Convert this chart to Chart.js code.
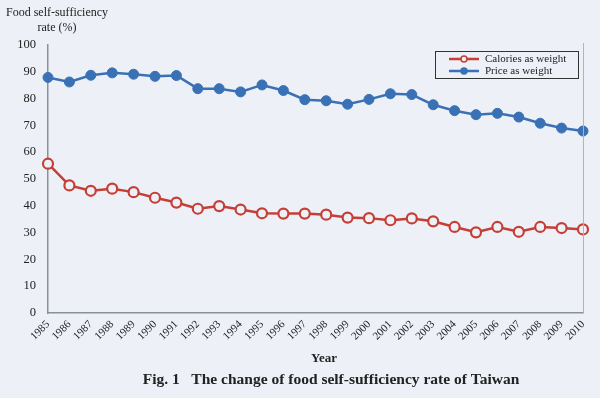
<!DOCTYPE html>
<html>
<head>
<meta charset="utf-8">
<script src="https://cdn.jsdelivr.net/npm/chart.js@4.4.0/dist/chart.umd.min.js"></script>
<style>
  html, body { margin: 0; padding: 0; background: #edf0f6; }
  #wrap { width: 600px; height: 398px; position: relative; }
</style>
</head>
<body>
<div id="wrap"><canvas id="grafica"></canvas></div>
<script>
// Datos
var years = ["1985", "1986", "1987", "1988", "1989", "1990", "1991", "1992", "1993", "1994",
  "1995", "1996", "1997", "1998", "1999", "2000", "2001", "2002", "2003", "2004",
  "2005", "2006", "2007", "2008", "2009", "2010"];
var caloriesWeight = [55.7, 47.6, 45.6, 46.4, 45.1, 43.0, 41.2, 38.9, 39.9, 38.6,
  37.2, 37.1, 37.1, 36.7, 35.6, 35.4, 34.6, 35.3, 34.2, 32.1,
  30.1, 32.1, 30.3, 32.1, 31.7, 31.2];
var priceWeight = [87.9, 86.2, 88.7, 89.6, 89.1, 88.3, 88.6, 83.7, 83.7, 82.5,
  85.1, 83.0, 79.6, 79.2, 77.9, 79.7, 81.8, 81.5, 77.7, 75.5,
  74.0, 74.5, 73.1, 70.8, 69.0, 67.9];
var yTicks = [0, 10, 20, 30, 40, 50, 60, 70, 80, 90, 100];
var seriesNames = ["Calories as weight", "Price as weight"];

var rojo = "#c53f37";
var azul = "#3a71b5";
var fondo = "#edf0f6";
var texto = "#222222";
var serif = "'Liberation Serif', 'DejaVu Serif', serif";

// Plugin para textos extra y leyenda dentro del area
var extras = {
  id: "extras",
  afterDraw: function (chart) {
    var ctx = chart.ctx;
    var area = chart.chartArea;
    ctx.save();
    // borde derecho del area
    ctx.strokeStyle = "#aab4cc";
    ctx.lineWidth = 1;
    ctx.beginPath();
    ctx.moveTo(area.right + 0.5, area.top - 2);
    ctx.lineTo(area.right + 0.5, area.bottom);
    ctx.stroke();

    // titulo del eje y
    ctx.fillStyle = texto;
    ctx.font = "12px " + serif;
    ctx.textAlign = "center";
    ctx.textBaseline = "middle";
    ctx.fillText("Food self-sufficiency", 57, 13);
    ctx.fillText("rate (%)", 57, 28);

    // titulo eje x y pie de figura
    ctx.font = "bold 13px " + serif;
    ctx.fillText("Year", 324, 359);
    ctx.font = "bold 15.5px " + serif;
    ctx.fillText("Fig. 1   The change of food self-sufficiency rate of Taiwan", 331, 380);

    // leyenda
    var lx = 435, ly = 51, lw = 143, lh = 27;
    ctx.strokeStyle = "#333333";
    ctx.lineWidth = 1;
    ctx.strokeRect(lx + 0.5, ly + 0.5, lw, lh);
    var colores = [rojo, azul];
    for (var i = 0; i < seriesNames.length; i++) {
      var yy = ly + 8 + i * 12;
      ctx.strokeStyle = colores[i];
      ctx.lineWidth = 2.5;
      ctx.beginPath();
      ctx.moveTo(lx + 14, yy);
      ctx.lineTo(lx + 44, yy);
      ctx.stroke();
      ctx.beginPath();
      ctx.arc(lx + 29, yy, 3, 0, Math.PI * 2);
      ctx.fillStyle = i === 0 ? fondo : azul;
      ctx.fill();
      ctx.lineWidth = 1.5;
      ctx.stroke();
      ctx.fillStyle = texto;
      ctx.font = "11px " + serif;
      ctx.textAlign = "left";
      ctx.fillText(seriesNames[i], lx + 50, yy);
    }
    ctx.restore();
  }
};

var grafica = new Chart(document.getElementById("grafica"), {
  type: "line",
  data: {
    labels: years,
    datasets: [{
      label: seriesNames[0],
      data: caloriesWeight,
      borderColor: rojo,
      borderWidth: 2.5,
      pointRadius: 5,
      pointBorderWidth: 2.2,
      pointBackgroundColor: fondo,
      pointBorderColor: rojo,
      tension: 0,
    }, {
      label: seriesNames[1],
      data: priceWeight,
      borderColor: azul,
      borderWidth: 2.5,
      pointRadius: 5,
      pointBorderWidth: 1,
      pointBackgroundColor: azul,
      pointBorderColor: azul,
      tension: 0,
    }],
  },
  options: {
    responsive: true,
    maintainAspectRatio: false,
    animation: false,
    layout: { padding: { top: 45, right: 17, left: 0, bottom: 0 } },
    plugins: {
      legend: { display: false },
      tooltip: { enabled: false },
    },
    scales: {
      x: {
        offset: false,
        grid: { display: false, drawTicks: true, tickLength: 4, color: "#8a8f9c" },
        border: { color: "#8a8f9c", width: 1.5 },
        ticks: {
          color: texto,
          font: { family: serif, size: 11 },
          maxRotation: 45,
          minRotation: 45,
          autoSkip: false,
          padding: 1,
        },
        afterFit: function (scale) { scale.height = 85; },
      },
      y: {
        min: 0,
        max: 100,
        afterBuildTicks: function (scale) {
          scale.ticks = yTicks.map(function (v) { return { value: v }; });
        },
        grid: { display: false, drawTicks: true, tickLength: 4, color: "#8a8f9c" },
        border: { color: "#8a8f9c", width: 1.5 },
        ticks: {
          color: texto,
          font: { family: serif, size: 12.5 },
          padding: 8,
        },
        afterFit: function (scale) { scale.width = 48; },
      },
    },
  },
  plugins: [extras],
});
</script>
</body>
</html>
